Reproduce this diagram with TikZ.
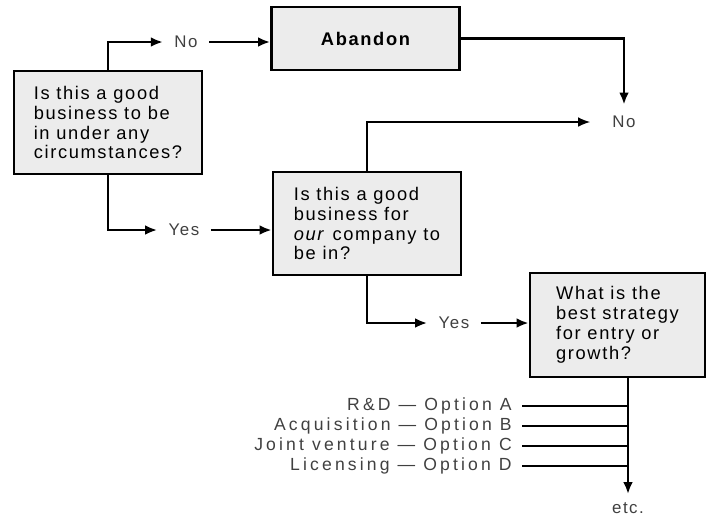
\documentclass[tikz,border=0pt]{standalone}
\usepackage{fontspec}
\setmainfont{Liberation Sans}[LetterSpace=9]
\usepackage{tikz}
\usetikzlibrary{arrows.meta, positioning, calc}

\begin{document}
\begin{tikzpicture}[
    x=0.025cm, y=-0.025cm,
    qbox/.style={rectangle, draw=black, line width=1.8pt, fill=gray!15, align=left, minimum width=4.7cm, minimum height=2.575cm, font=\fontsize{13}{14.2}\selectfont},
    ans/.style={inner sep=0.28cm, font=\fontsize{12}{14}\selectfont, text=black!75},
    opt/.style={anchor=east, inner xsep=0.25cm, inner ysep=0pt, font=\fontsize{12.5}{14}\selectfont\addfontfeatures{LetterSpace=18}, text=black!75},
    go/.style={-{Latex[length=3mm, width=2.4mm]}, line width=1.8pt},
  ]
  \useasboundingbox (0,0) rectangle (708,516);

  \node[qbox] (q1) at (108,122.5) {Is this a good\\business to be\\in under any\\circumstances?};
  \node[qbox, minimum height=1.575cm, font=\bfseries\fontsize{13}{14.2}\selectfont] (aband) at (365.5,38.5) {Abandon};
  \node[qbox] (q2) at (367,223.5) {Is this a good\\business for\\\emph{our} company to\\be in?};
  \node[qbox, minimum width=4.375cm, minimum height=2.6cm] (q3) at (617.5,325) {What is the\\best strategy\\for entry or\\growth?};

  \node[ans] (no1) at (186,42) {No};
  \node[ans, inner xsep=0.55cm] (no2) at (624,122) {No};
  \node[ans] (yes1) at (184,230) {Yes};
  \node[ans] (yes2) at (454,323) {Yes};
  \node[ans, inner ysep=0.2cm] (etc) at (628,508) {etc.};

  \draw[go] (q1.north) |- (no1.west);
  \draw[go] (no1.east) -- (no1.east -| aband.west);
  \draw[go] (aband.east) -| (no2.north);
  \draw[go, line width=1pt] (q2.north) |- (no2.west);
  \draw[go] (q1.south) |- (yes1.west);
  \draw[go] (yes1.east) -- (yes1.east -| q2.west);
  \draw[go] (q2.south) |- (yes2.west);
  \draw[go] (yes2.east) -- (yes2.east -| q3.west);
  \draw[go] (q3.south -| etc.north) -- (etc.north);

  % options feeding the strategy line
  \foreach \txt [count=\i] in {R\&D --- Option A, Acquisition --- Option B, Joint venture --- Option C, Licensing --- Option D} {
    \node[opt] (opt\i) at (522,386+20*\i) {\txt};
    \draw[line width=1.8pt] (opt\i.east) -- (opt\i.east -| etc.north);
  }
\end{tikzpicture}
\end{document}
